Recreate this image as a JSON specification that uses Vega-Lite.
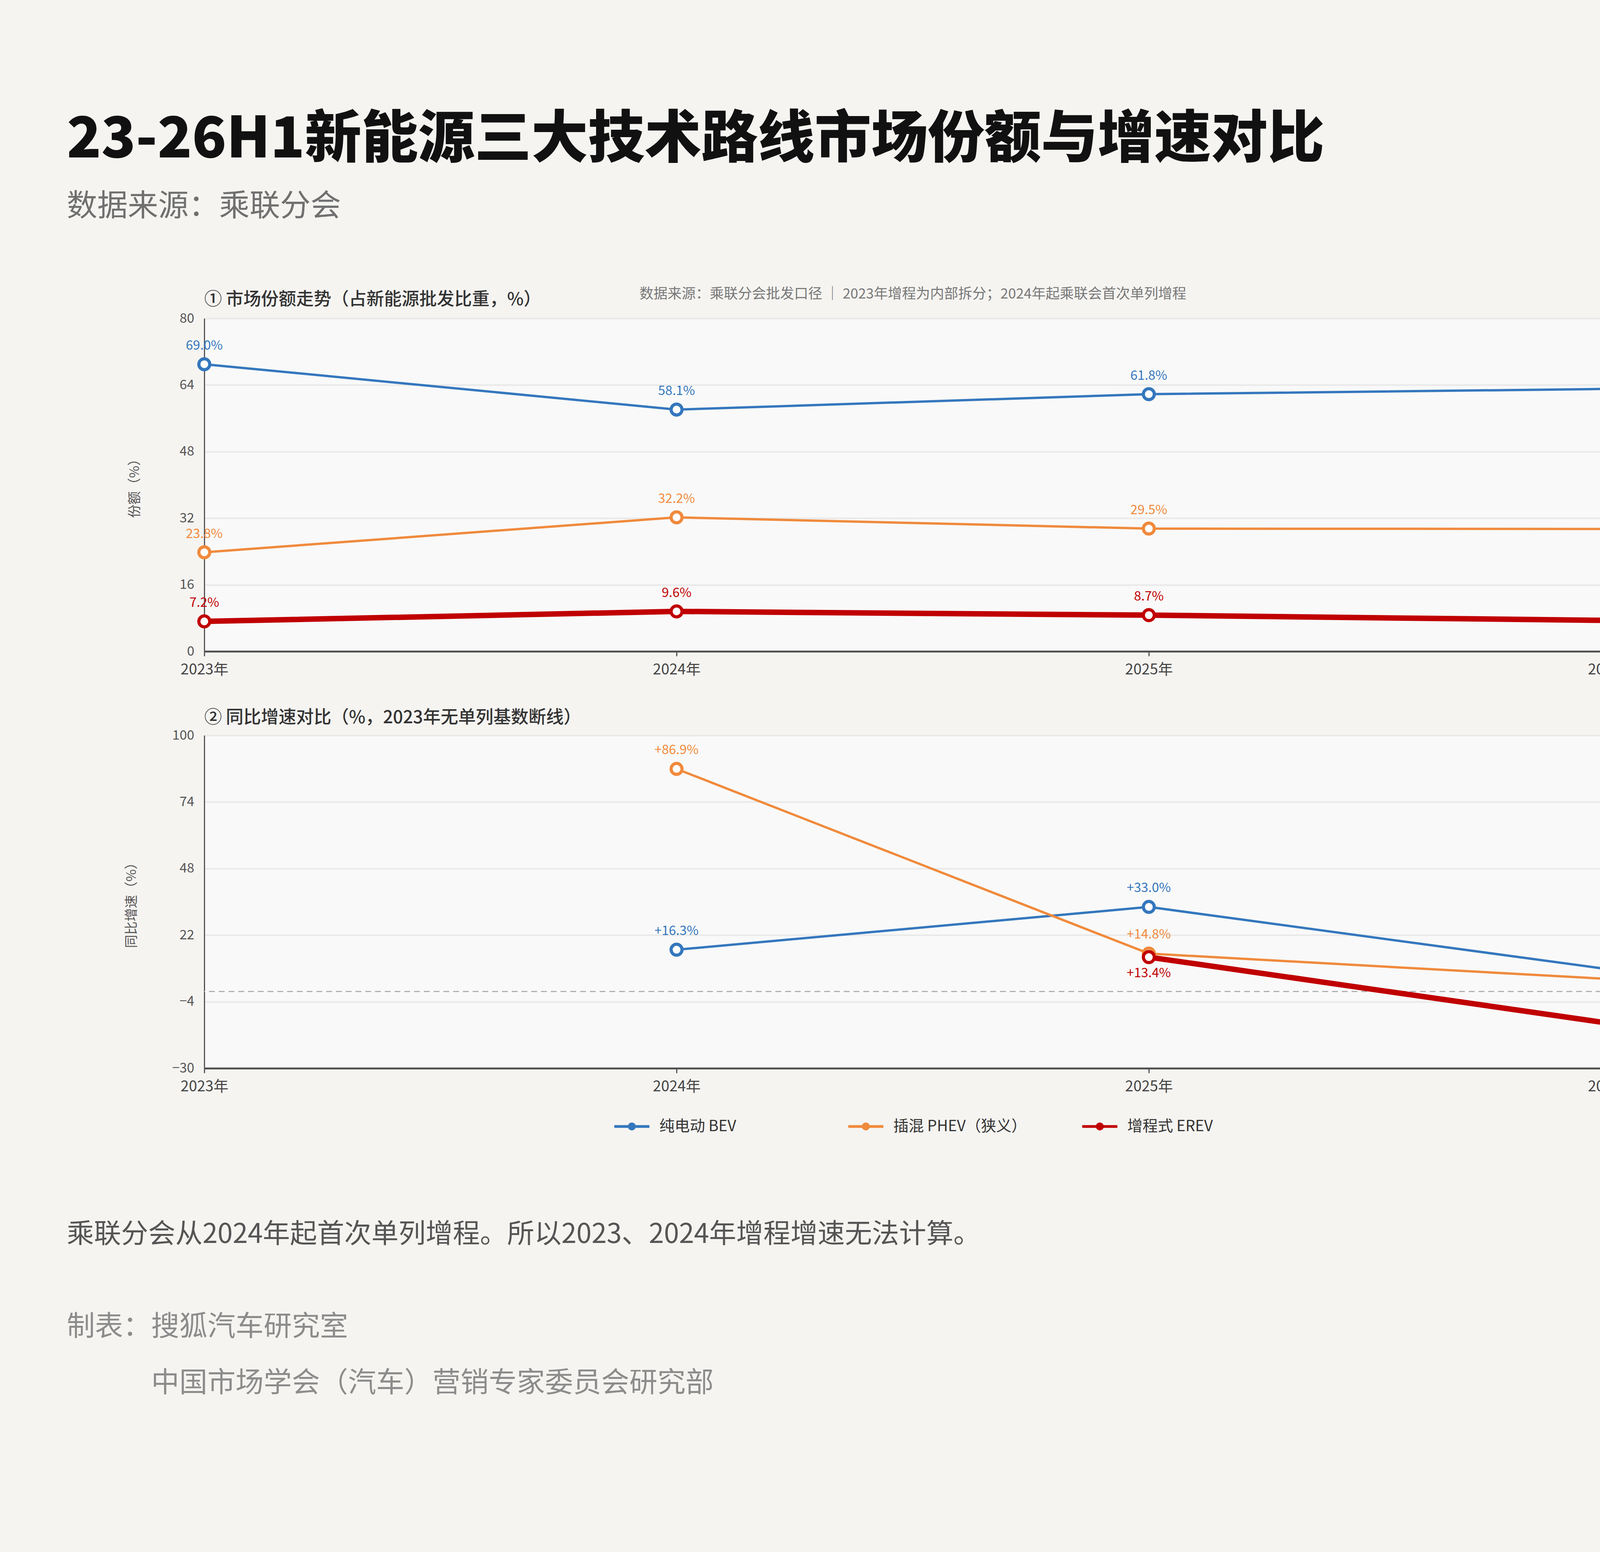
{
  "$schema": "https://vega.github.io/schema/vega-lite/v6.json",
  "background": "#f5f4f1",
  "padding": {"left": 171, "top": 287, "right": 478, "bottom": 388},
  "config": {
    "font": "Noto Sans CJK SC",
    "view": {"stroke": null, "fill": "#f9f9f9"},
    "axisX": {"domainColor": "#555555", "domainWidth": 5, "tickColor": "#555555", "tickWidth": 3, "tickSize": 12, "labelFontSize": 38, "labelColor": "#444444", "labelPadding": 16, "grid": false, "labelAngle": 0, "title": null},
    "axisY": {"domainColor": "#555555", "domainWidth": 3, "ticks": false, "tickSize": 0, "labelFontSize": 34, "labelColor": "#555555", "labelPadding": 26, "gridColor": "#e9e9e9", "gridWidth": 4, "titleFontSize": 34, "titleColor": "#555555", "titleFontWeight": "normal"}
  },
  "title": {
    "text": "23-26H1新能源三大技术路线市场份额与增速对比",
    "subtitle": "数据来源：乘联分会",
    "anchor": "start",
    "fontSize": 145,
    "fontWeight": 900,
    "color": "#111111",
    "subtitleFontSize": 78,
    "subtitleColor": "#707070",
    "subtitlePadding": 58,
    "offset": 164
  },
  "spacing": 221,
  "vconcat": [
    {
      "spacing": 82,
      "resolve": {"scale": {"color": "independent"}, "legend": {"color": "independent"}},
      "vconcat": [
        {
          "width": 3627,
          "height": 852,
          "title": {"text": "① 市场份额走势（占新能源批发比重，%）", "anchor": "start", "frame": "group", "fontSize": 45, "fontWeight": 500, "color": "#333333", "offset": -56},
          "data": {"values": [
            {"period": "2023年", "series": "纯电动 BEV", "value": 69.0, "label": "69.0%"},
            {"period": "2024年", "series": "纯电动 BEV", "value": 58.1, "label": "58.1%"},
            {"period": "2025年", "series": "纯电动 BEV", "value": 61.8, "label": "61.8%"},
            {"period": "2026年H1", "series": "纯电动 BEV", "value": 63.1, "label": "63.1%"},
            {"period": "2023年", "series": "插混 PHEV（狭义）", "value": 23.8, "label": "23.8%"},
            {"period": "2024年", "series": "插混 PHEV（狭义）", "value": 32.2, "label": "32.2%"},
            {"period": "2025年", "series": "插混 PHEV（狭义）", "value": 29.5, "label": "29.5%"},
            {"period": "2026年H1", "series": "插混 PHEV（狭义）", "value": 29.4, "label": "29.4%"},
            {"period": "2023年", "series": "增程式 EREV", "value": 7.2, "label": "7.2%"},
            {"period": "2024年", "series": "增程式 EREV", "value": 9.6, "label": "9.6%"},
            {"period": "2025年", "series": "增程式 EREV", "value": 8.7, "label": "8.7%"},
            {"period": "2026年H1", "series": "增程式 EREV", "value": 7.4, "label": "7.4%"}
          ]},
          "encoding": {
            "x": {"field": "period", "type": "ordinal", "scale": {"type": "point", "domain": ["2023年", "2024年", "2025年", "2026年H1"], "padding": 0}, "axis": {"title": null}},
            "y": {"field": "value", "type": "quantitative", "scale": {"domain": [0, 80]}, "axis": {"values": [0, 16, 32, 48, 64, 80], "title": "份额（%）", "titlePadding": 97}},
            "color": {"field": "series", "type": "nominal", "scale": {"domain": ["纯电动 BEV", "插混 PHEV（狭义）", "增程式 EREV"], "range": ["#3477bd", "#f08a3c", "#c00000"]}, "legend": null}
          },
          "resolve": {"axis": {"x": "independent"}},
          "layer": [
            {
              "layer": [
                {"transform": [{"filter": "datum.series !== '增程式 EREV'"}], "mark": {"type": "line", "strokeWidth": 6}},
                {"transform": [{"filter": "datum.series === '增程式 EREV'"}], "mark": {"type": "line", "strokeWidth": 14}},
                {"mark": {"type": "point", "shape": "circle", "filled": false, "fill": "white", "size": 784, "strokeWidth": 8, "opacity": 1}}
              ]
            },
            {
              "mark": {"type": "text", "dy": -47, "fontSize": 33, "baseline": "middle"},
              "encoding": {
                "text": {"field": "label"},
                "x": {"field": "period", "type": "ordinal", "scale": {"type": "point", "domain": ["2023年", "2024年", "2025年", "2026年H1"], "padding": 0},
                  "axis": {"orient": "top", "title": "数据来源：乘联分会批发口径 ｜ 2023年增程为内部拆分；2024年起乘联会首次单列增程", "labels": false, "ticks": false, "domain": false, "grid": false, "tickSize": 0, "labelPadding": 0, "titlePadding": 44, "titleFontSize": 36, "titleColor": "#777777", "titleFontWeight": "normal", "titleAnchor": "middle"}}
              }
            }
          ]
        },
        {
          "width": 3627,
          "height": 852,
          "title": {"text": "② 同比增速对比（%，2023年无单列基数断线）", "anchor": "start", "frame": "group", "fontSize": 45, "fontWeight": 500, "color": "#333333", "offset": 5},
          "data": {"values": [
            {"period": "2024年", "series": "纯电动 BEV", "value": 16.3, "label": "+16.3%"},
            {"period": "2025年", "series": "纯电动 BEV", "value": 33.0, "label": "+33.0%"},
            {"period": "2026年H1", "series": "纯电动 BEV", "value": 8.0, "label": "+8.0%"},
            {"period": "2024年", "series": "插混 PHEV（狭义）", "value": 86.9, "label": "+86.9%"},
            {"period": "2025年", "series": "插混 PHEV（狭义）", "value": 14.8, "label": "+14.8%"},
            {"period": "2026年H1", "series": "插混 PHEV（狭义）", "value": 4.6, "label": "+4.6%"},
            {"period": "2025年", "series": "增程式 EREV", "value": 13.4, "label": "+13.4%"},
            {"period": "2026年H1", "series": "增程式 EREV", "value": -13.1, "label": "-13.1%"}
          ]},
          "encoding": {
            "x": {"field": "period", "type": "ordinal", "scale": {"type": "point", "domain": ["2023年", "2024年", "2025年", "2026年H1"], "padding": 0}, "axis": {"title": null}},
            "y": {"field": "value", "type": "quantitative", "scale": {"domain": [-30, 100]}, "axis": {"values": [-30, -4, 22, 48, 74, 100], "title": "同比增速（%）", "titlePadding": 86}},
            "color": {
              "field": "series", "type": "nominal",
              "scale": {"domain": ["纯电动 BEV", "插混 PHEV（狭义）", "增程式 EREV"], "range": ["#3477bd", "#f08a3c", "#c00000"]},
              "legend": {
                "orient": "none", "legendX": 1046, "legendY": 952, "direction": "horizontal", "columns": 3, "gridAlign": "all", "columnPadding": 127,
                "title": null, "symbolType": "M-1,0H1M-0.15,0A0.15,0.15 0 1,1 0.15,0A0.15,0.15 0 1,1 -0.15,0", "symbolSize": 8100, "symbolStrokeWidth": 7,
                "labelFontSize": 39, "labelColor": "#333333", "labelOffset": 22, "labelLimit": 1000, "padding": 0
              }
            }
          },
          "resolve": {"axis": {"y": "independent"}},
          "layer": [
            {
              "layer": [
                {"mark": {"type": "rule", "strokeDash": [15, 10], "strokeWidth": 3, "color": "#b0b0b0"}, "encoding": {"y": {"datum": 0}, "color": {"value": "#b0b0b0"}, "x": null}},
                {"transform": [{"filter": "datum.series !== '增程式 EREV'"}], "mark": {"type": "line", "strokeWidth": 6}},
                {"transform": [{"filter": "datum.series === '增程式 EREV'"}], "mark": {"type": "line", "strokeWidth": 14}},
                {"mark": {"type": "point", "shape": "circle", "filled": false, "fill": "white", "size": 784, "strokeWidth": 8, "opacity": 1}},
                {
                  "transform": [{"filter": "(datum.series === '增程式 EREV' && datum.period === '2025年') || (datum.series === '插混 PHEV（狭义）' && datum.period === '2026年H1')"}],
                  "mark": {"type": "text", "dy": 41, "fontSize": 33, "baseline": "middle"}, "encoding": {"text": {"field": "label"}}
                }
              ]
            },
            {
              "transform": [{"filter": "!((datum.series === '增程式 EREV' && datum.period === '2025年') || (datum.series === '插混 PHEV（狭义）' && datum.period === '2026年H1'))"}],
              "mark": {"type": "text", "dy": -48, "fontSize": 33, "baseline": "middle"},
              "encoding": {
                "text": {"field": "label"},
                "y": {"field": "value", "type": "quantitative", "scale": {"domain": [-30, 100]},
                  "axis": {"orient": "right", "values": [0], "labelExpr": "'0%'", "domain": false, "ticks": false, "tickSize": 0, "grid": false, "labelPadding": 12, "labelColor": "#999999", "labelFontSize": 28, "title": null}}
              }
            }
          ]
        }
      ]
    },
    {
      "width": 1,
      "height": 1,
      "view": {"fill": null, "stroke": null},
      "data": {"values": [{}]},
      "mark": {"type": "text"},
      "encoding": {"text": {"value": ""}},
      "title": {
        "text": "乘联分会从2024年起首次单列增程。所以2023、2024年增程增速无法计算。",
        "subtitle": ["制表：搜狐汽车研究室", "\u200b　　　中国市场学会（汽车）营销专家委员会研究部"],
        "anchor": "start",
        "dx": -352,
        "fontSize": 69.5,
        "fontWeight": "normal",
        "color": "#555555",
        "subtitleFontSize": 72,
        "subtitleColor": "#8c8c8c",
        "subtitlePadding": 165,
        "subtitleLineHeight": 144,
        "offset": 0
      }
    }
  ]
}
